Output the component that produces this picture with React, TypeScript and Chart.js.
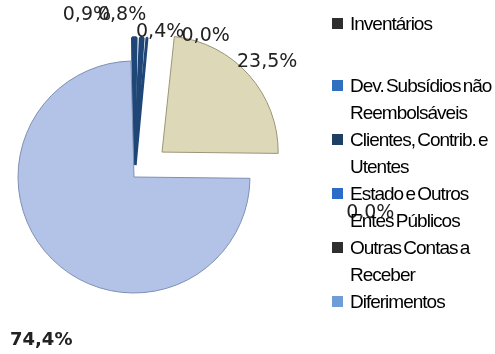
import React, { useEffect, useRef } from "react";
import { Chart, registerables } from "chart.js";

Chart.register(...registerables);

// ---- data ----
const categories = [
  "Inventários",
  "",
  "Dev. Subsídios não\nReembolsáveis",
  "Clientes, Contrib. e\nUtentes",
  "Estado e Outros\nEntes Públicos",
  "Outras Contas a\nReceber",
  "Diferimentos",
];
const shares = [0.9, 0.8, 0.4, 0.0, 23.5, 0.0, 74.4];

// ---- styles ----
const sliceColors = ["#1e4676", "#1e4676", "#1e4676", "#ffffff", "#ddd8b8", "#ffffff", "#b3c3e7"];
const sliceBorders = ["#1e4676", "#1e4676", "#1e4676", "#ffffff", "#9b9577", "#ffffff", "#7f8fb3"];
const sliceBorderWidths = [3, 3, 3, 0, 1, 0, 1];
const sliceOffsets = [48, 48, 48, 0, 150, 0, 0];
const markerColors = ["#2e2e2e", "rgba(0,0,0,0)", "#2f6fc0", "#1d3f66", "#2a6cc8", "#2e2e2e", "#6f9dd8"];
const labelAngleShift = [-16.3, -7.4, 4.9, 20.9, 0.8, 8.0, -15.0];
const labelRadius = [169, 162, 147, 158, 176, 239, 188];
const labelBold = [false, false, false, false, false, false, true];

const fmt = (v: number) => v.toFixed(1).replace(".", ",") + "%";

const pctLabels = {
  id: "pctLabels",
  afterDatasetsDraw(chart: any) {
    const ctx = chart.ctx;
    const meta = chart.getDatasetMeta(0);
    meta.data.forEach((arc: any, i: number) => {
      const { x, y, startAngle, endAngle } = arc.getProps(["x", "y", "startAngle", "endAngle"], true);
      const a = (startAngle + endAngle) / 2 + (labelAngleShift[i] * Math.PI) / 180;
      const px = x + Math.cos(a) * labelRadius[i];
      const py = y + Math.sin(a) * labelRadius[i];
      ctx.save();
      ctx.font = labelBold[i] ? "bold 18px 'DejaVu Sans'" : "19px 'DejaVu Sans'";
      ctx.fillStyle = "#222222";
      ctx.textAlign = "center";
      ctx.textBaseline = "middle";
      ctx.fillText(fmt(shares[i]), px, py);
      ctx.restore();
    });
  },
};

export default function App() {
  const ref = useRef<HTMLCanvasElement | null>(null);

  useEffect(() => {
    if (!ref.current) return;
    const chart = new Chart(ref.current, {
      type: "pie",
      data: {
        labels: categories.map((c) => c.replace("\n", " ")),
        datasets: [
          {
            data: shares,
            backgroundColor: sliceColors,
            borderColor: sliceBorders,
            borderWidth: sliceBorderWidths,
            offset: sliceOffsets,
          },
        ],
      },
      options: {
        responsive: false,
        animation: false,
        devicePixelRatio: 1,
        rotation: -1.5,
        radius: 116,
        layout: { padding: { left: 0, right: 227, top: 0, bottom: 0 } },
        plugins: {
          legend: { display: false },
          tooltip: { enabled: false },
          title: { display: false },
        },
      },
      plugins: [pctLabels],
    });
    return () => chart.destroy();
  }, []);

  return (
    <div style={{ position: "absolute", left: 0, top: 0, width: 495, height: 354, background: "#ffffff" }}>
      <canvas ref={ref} width={495} height={354} style={{ position: "absolute", left: 0, top: 0, width: 495, height: 354 }} />
      <div
        style={{
          position: "absolute",
          left: 332,
          top: 10,
          fontFamily: "'Liberation Sans Narrow', 'Liberation Sans', sans-serif",
          fontSize: 19,
          letterSpacing: "-1px",
          wordSpacing: "-2px",
          lineHeight: "27px",
          color: "#000000",
        }}
      >
        {categories.map((c, i) => (
          <div key={i} style={{ display: "flex", alignItems: "flex-start", height: c === "" ? 35 : undefined }}>
            <div style={{ width: 11, height: 11, marginTop: 8, marginRight: 7, background: markerColors[i], flex: "0 0 auto" }} />
            <div style={{ whiteSpace: "pre" }}>{c}</div>
          </div>
        ))}
      </div>
    </div>
  );
}
